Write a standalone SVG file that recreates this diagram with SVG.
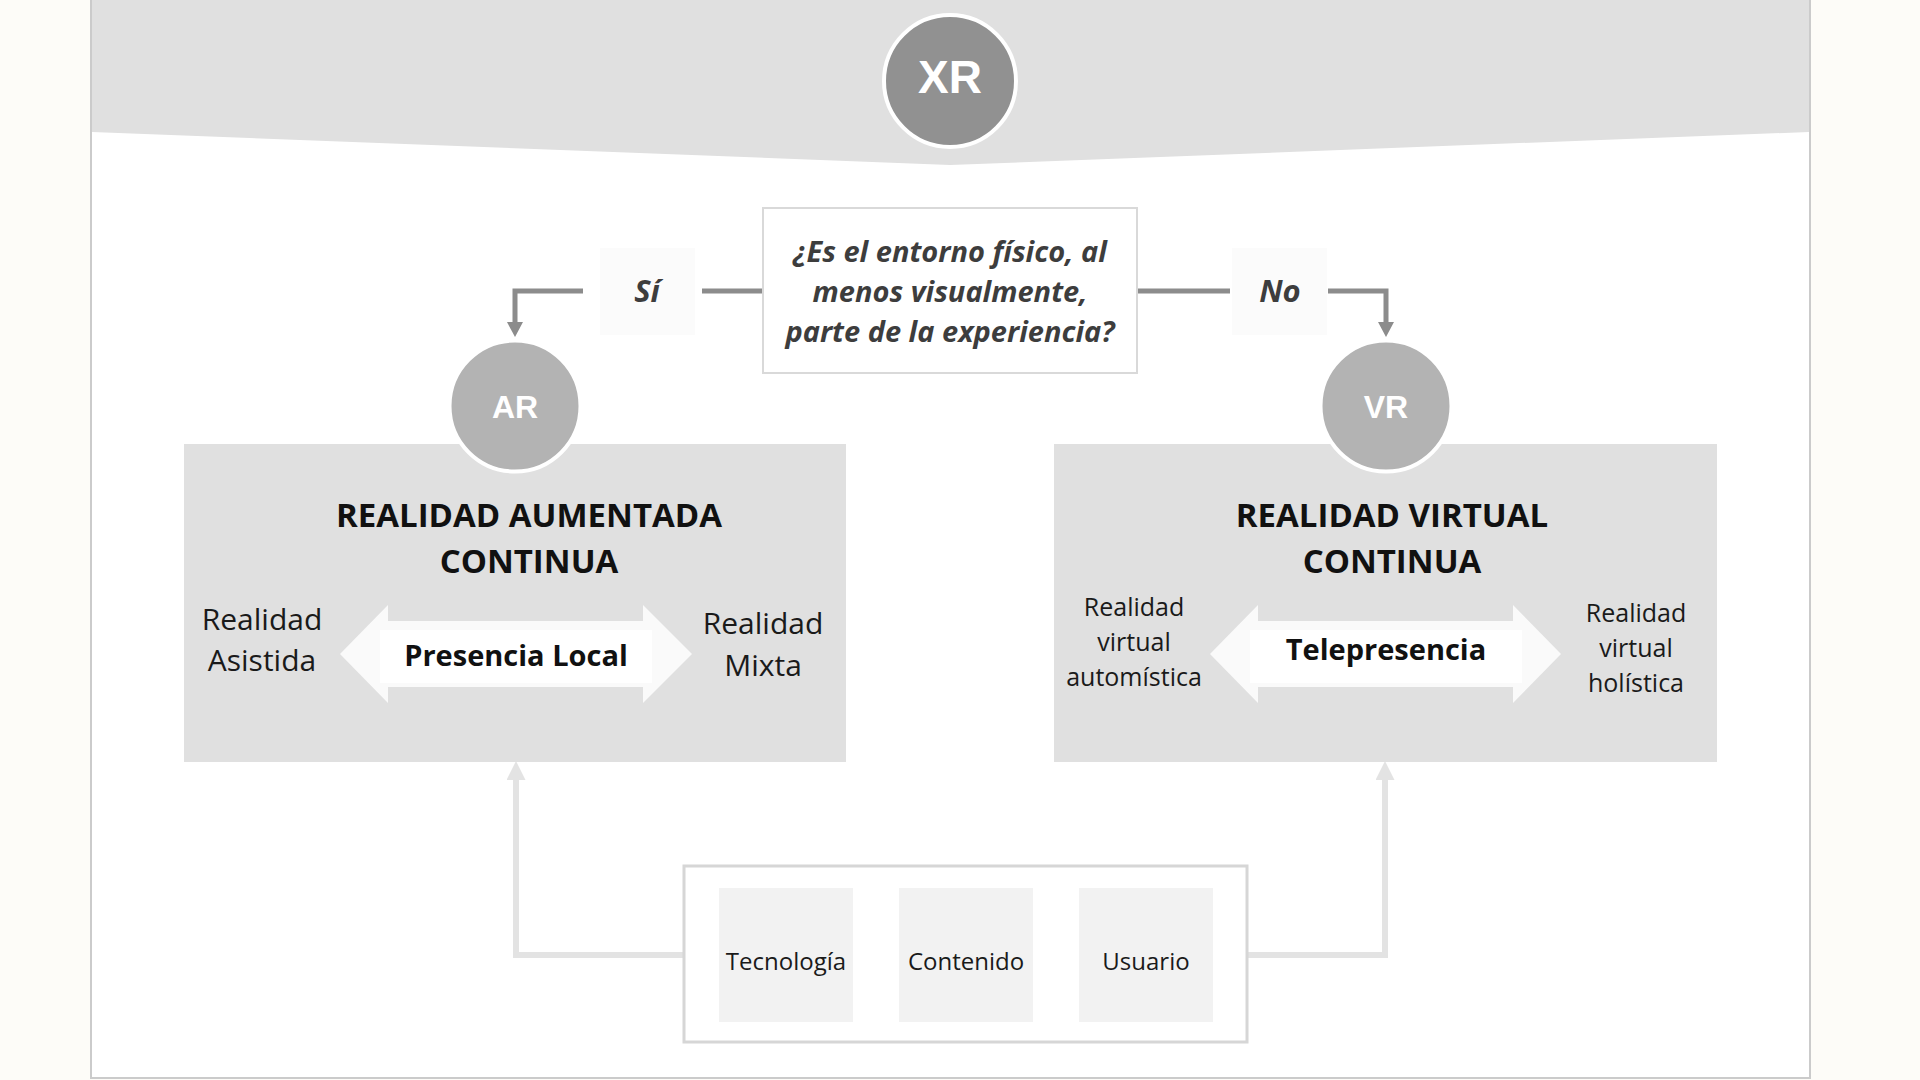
<svg xmlns="http://www.w3.org/2000/svg" width="1920" height="1080" viewBox="0 0 1920 1080">
  <defs>
    <marker id="ahDark" markerWidth="16" markerHeight="16" refX="0" refY="8" orient="auto" markerUnits="userSpaceOnUse">
      <path d="M0,0 L15,8 L0,16 Z" fill="#8c8c8c"/>
    </marker>
    <marker id="ahLight" markerWidth="19" markerHeight="19" refX="0" refY="9.5" orient="auto" markerUnits="userSpaceOnUse">
      <path d="M0,0 L19,9.5 L0,19 Z" fill="#e3e3e3"/>
    </marker>
    <style>
      .q { font-family: "Open Sans", "Liberation Sans", sans-serif; font-weight: 700; font-style: italic; fill: #3d3d3d; text-anchor: middle; }
      .title { font-family: "Open Sans", "Liberation Sans", sans-serif; font-weight: 700; font-size: 33px; fill: #111; text-anchor: middle; }
      .reg { font-family: "Open Sans", "Liberation Sans", sans-serif; font-weight: 400; fill: #1a1a1a; text-anchor: middle; }
      .bold { font-family: "Open Sans", "Liberation Sans", sans-serif; font-weight: 700; fill: #111; text-anchor: middle; }
      .circ { font-family: "Liberation Sans", Arial, sans-serif; font-weight: 700; fill: #ffffff; text-anchor: middle; }
      .panel { fill: #e0e0e0; }
      .dbl { fill: #fafafa; }
      .lab { fill: #fbfbfb; }
      .factor { fill: #f2f2f2; }
      .conn-dark { fill: none; stroke: #8c8c8c; stroke-width: 5; }
      .conn-light { fill: none; stroke: #e3e3e3; stroke-width: 6; }
    </style>
  </defs>

  <rect x="0" y="0" width="1920" height="1080" fill="#fdfcf8"/>

  <g id="frame">
    <rect x="91" y="-2" width="1719" height="1080" fill="#ffffff" stroke="#cbcbcb" stroke-width="2"/>
    <polygon points="92,0 1809,0 1809,132 950,165 92,132" fill="#e0e0e0"/>
  </g>

  <g id="connectors">
    <path class="conn-dark" d="M763,291 H702"/>
    <path class="conn-dark" d="M583,291 H515 V322" marker-end="url(#ahDark)"/>
    <path class="conn-dark" d="M1137,291 H1230"/>
    <path class="conn-dark" d="M1328,291 H1386 V322" marker-end="url(#ahDark)"/>
    <path class="conn-light" d="M684,955 H516 V780" marker-end="url(#ahLight)"/>
    <path class="conn-light" d="M1247,955 H1385 V780" marker-end="url(#ahLight)"/>
  </g>

  <g id="xr">
    <circle cx="950" cy="81" r="66" fill="#919191" stroke="#ffffff" stroke-width="4"/>
    <text class="circ" x="950" y="93" font-size="46">XR</text>
  </g>

  <g id="question">
    <rect x="763" y="208" width="374" height="165" fill="#ffffff" stroke="#d9d9d9" stroke-width="2"/>
    <text class="q" x="950" y="262" font-size="29">¿Es el entorno físico, al</text>
    <text class="q" x="950" y="302" font-size="29">menos visualmente,</text>
    <text class="q" x="950" y="342" font-size="29">parte de la experiencia?</text>
  </g>

  <g id="label-si">
    <rect class="lab" x="600" y="248" width="95" height="87"/>
    <text class="q" x="647" y="302" font-size="31">Sí</text>
  </g>

  <g id="label-no">
    <rect class="lab" x="1232" y="248" width="95" height="87"/>
    <text class="q" x="1280" y="302" font-size="31">No</text>
  </g>

  <g id="ar-panel">
    <rect class="panel" x="184" y="444" width="662" height="318"/>
    <text class="title" x="529" y="527">REALIDAD AUMENTADA</text>
    <text class="title" x="529" y="573">CONTINUA</text>
    <polygon class="dbl" points="340,654 388,605 388,621 643,621 643,605 692,654 643,703 643,687 388,687 388,703"/>
    <rect x="380" y="630" width="272" height="53" fill="#ffffff"/>
    <text class="bold" x="516" y="666" font-size="29">Presencia Local</text>
    <text class="reg" x="262" y="630" font-size="30">Realidad</text>
    <text class="reg" x="262" y="671" font-size="30">Asistida</text>
    <text class="reg" x="763" y="634" font-size="30">Realidad</text>
    <text class="reg" x="763" y="676" font-size="30">Mixta</text>
  </g>

  <g id="ar">
    <circle cx="515" cy="406" r="65.5" fill="#b3b3b3" stroke="#ffffff" stroke-width="4"/>
    <text class="circ" x="515" y="418" font-size="32">AR</text>
  </g>

  <g id="vr-panel">
    <rect class="panel" x="1054" y="444" width="663" height="318"/>
    <text class="title" x="1392" y="527">REALIDAD VIRTUAL</text>
    <text class="title" x="1392" y="573">CONTINUA</text>
    <polygon class="dbl" points="1210,654 1258,605 1258,621 1513,621 1513,605 1561,654 1513,703 1513,687 1258,687 1258,703"/>
    <rect x="1250" y="630" width="272" height="53" fill="#ffffff"/>
    <text class="bold" x="1386" y="660" font-size="29">Telepresencia</text>
    <text class="reg" x="1134" y="616" font-size="25">Realidad</text>
    <text class="reg" x="1134" y="651" font-size="25">virtual</text>
    <text class="reg" x="1134" y="686" font-size="25">automística</text>
    <text class="reg" x="1636" y="622" font-size="25">Realidad</text>
    <text class="reg" x="1636" y="657" font-size="25">virtual</text>
    <text class="reg" x="1636" y="692" font-size="25">holística</text>
  </g>

  <g id="vr">
    <circle cx="1386" cy="406" r="65.5" fill="#b3b3b3" stroke="#ffffff" stroke-width="4"/>
    <text class="circ" x="1386" y="418" font-size="32">VR</text>
  </g>

  <g id="factors">
    <rect x="684" y="866" width="563" height="176" fill="#ffffff" stroke="#d6d6d6" stroke-width="3"/>
    <g id="tecnologia">
      <rect class="factor" x="719" y="888" width="134" height="134"/>
      <text class="reg" x="786" y="970" font-size="24">Tecnología</text>
    </g>
    <g id="contenido">
      <rect class="factor" x="899" y="888" width="134" height="134"/>
      <text class="reg" x="966" y="970" font-size="24">Contenido</text>
    </g>
    <g id="usuario">
      <rect class="factor" x="1079" y="888" width="134" height="134"/>
      <text class="reg" x="1146" y="970" font-size="24">Usuario</text>
    </g>
  </g>
</svg>
